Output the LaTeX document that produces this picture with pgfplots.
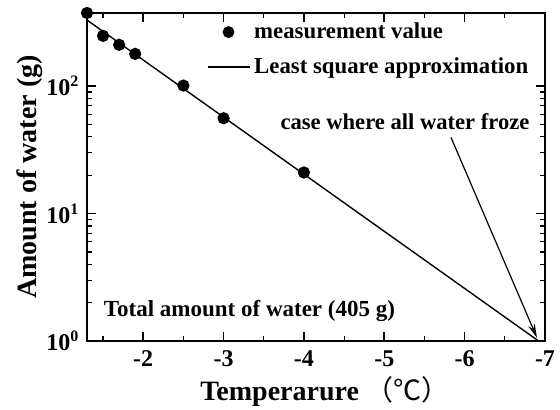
\documentclass[border=0pt]{standalone}
\usepackage{fontspec}
\setmainfont{Liberation Serif}
\newfontfamily\cjk{Noto Sans CJK JP}
\usepackage{pgfplots}
\pgfplotsset{compat=1.18}
\usetikzlibrary{arrows.meta,calc}
\pgfplotsset{
  mymeaslegend/.style={legend image code/.code={\draw[##1] plot coordinates {(10.5pt,0pt)};}},
  mylinelegend/.style={legend image code/.code={\draw[##1] (0pt,0pt) -- (21pt,0pt);}},
}
\begin{document}
\begin{tikzpicture}
\begin{axis}[
  name=ax,
  scale only axis,
  width=229pt, height=164pt,
  axis lines=box,
  xtick pos=both, ytick pos=both,
  xmin=-7, xmax=-1.3, x dir=reverse,
  ymode=log, ymin=1, ymax=375,
  xtick={-2,-3,-4,-5,-6,-7},
  xticklabels={-2,-3,-4,-5,-6,-7},
  minor xtick={-1.5,-2.5,-3.5,-4.5,-5.5,-6.5},
  ytick={1,10,100},
  yticklabels={10\textsuperscript{0},10\textsuperscript{1},10\textsuperscript{2}},
  tick label style={font=\fontsize{12}{14}\selectfont\bfseries},
  xticklabel style={yshift=-1pt},
  major tick length=4.5pt, minor tick length=2.5pt,
  every axis/.append style={line width=0.9pt},
  every tick/.style={black, line width=0.8pt},
  every minor tick/.style={black, line width=0.6pt},
  tick align=inside,
  xlabel={Temperarure {\cjk\mdseries （℃）}},
  ylabel={Amount of water (g)},
  label style={font=\fontsize{14}{16}\selectfont\bfseries},
  xlabel style={at={(rel axis cs:0.52,0)}, anchor=center, yshift=-25pt},
  ylabel style={at={(rel axis cs:0,0.5)}, anchor=center, yshift=28.5pt},
  clip=false,
  legend style={draw=none, fill=none, at={(rel axis cs:0.247,0.997)}, anchor=north west,
    font=\fontsize{11.4}{13}\selectfont\bfseries, row sep=4pt, line width=0.7pt},
  legend cell align=left,
]
\addplot[only marks, mark=*, mark size=2.6pt, black, mymeaslegend]
  coordinates {(-1.3,375) (-1.5,248) (-1.7,211) (-1.9,179) (-2.5,101) (-3.0,56) (-4.0,21)};
\addlegendentry{measurement value}
\addplot[black, line width=0.7pt, mark=none, mylinelegend]
  coordinates {(-1.3,330) (-6.92,1)};
\addlegendentry{Least square approximation}
\draw[black, line width=0.9pt] (rel axis cs:0,0) rectangle (rel axis cs:1,1);
\draw[-{Stealth[length=7pt,width=3.5pt]}, line width=0.6pt] (axis cs:-5.83,39.6) -- (axis cs:-6.9,1.06);
\node[anchor=east, font=\fontsize{11.3}{13}\selectfont\bfseries, inner sep=0pt] at (rel axis cs:0.968,0.67) {case where all water froze};
\node[anchor=west, font=\fontsize{11.5}{13}\selectfont\bfseries, inner sep=0pt] at (rel axis cs:0.035,0.092) {Total amount of water (405 g)};
\end{axis}
\pgfresetboundingbox
\useasboundingbox ($(ax.south west)+(-43.5pt,-34.5pt)$) rectangle ($(ax.south west)+(236.5pt,170.5pt)$);
\end{tikzpicture}
\end{document}
